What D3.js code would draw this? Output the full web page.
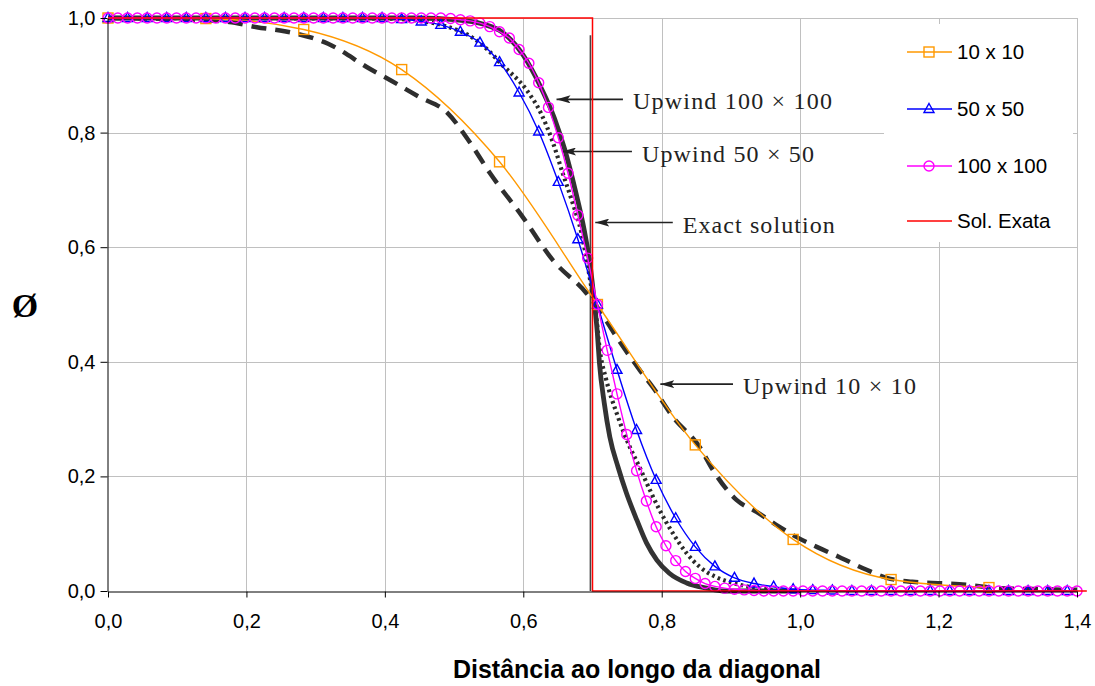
<!DOCTYPE html>
<html>
<head>
<meta charset="utf-8">
<script src="https://cdn.jsdelivr.net/npm/d3@7"></script>
<style>
  body { margin: 0; background: #ffffff; }
  svg { display: block; }
</style>
</head>
<body>
<svg id="chart" width="1095" height="686"></svg>
<script>
// ---------------- DATA ----------------
const xTickValues = [0, 0.2, 0.4, 0.6, 0.8, 1.0, 1.2, 1.4];
const yTickValues = [0, 0.2, 0.4, 0.6, 0.8, 1.0];
const seriesNames = ["10 x 10", "50 x 50", "100 x 100", "Sol. Exata"];

// 10 x 10 mesh (points along the diagonal)
const mesh10X = [0, 0.1414, 0.2828, 0.4243, 0.5657, 0.7071, 0.8485, 0.9899, 1.1314, 1.2728];
const mesh10Y = [1.000, 0.999, 0.980, 0.910, 0.749, 0.500, 0.255, 0.090, 0.020, 0.006];

// 50 x 50 mesh (spacing sqrt(2)/50)
const mesh50Step = 0.028284;
const mesh50Y = [
  1, 1, 1, 1, 1, 1, 1, 1, 1, 1,
  1, 1, 1, 1, 1, 0.998, 0.994, 0.988, 0.976, 0.957,
  0.923, 0.870, 0.802, 0.714, 0.614, 0.500, 0.386, 0.281, 0.194, 0.127,
  0.077, 0.043, 0.023, 0.013, 0.0075, 0.003, 0.0015, 0.001, 0, 0,
  0, 0, 0, 0, 0, 0, 0, 0, 0, 0
];

// 100 x 100 mesh (spacing sqrt(2)/100)
const mesh100Step = 0.014142;
const mesh100Y = [
  1, 1, 1, 1, 1, 1, 1, 1, 1, 1,
  1, 1, 1, 1, 1, 1, 1, 1, 1, 1,
  1, 1, 1, 1, 1, 1, 1, 1, 1, 1,
  1, 1, 1, 1, 1, 0.999, 0.997, 0.995, 0.991, 0.985,
  0.976, 0.965, 0.945, 0.921, 0.887, 0.844, 0.791, 0.729, 0.656, 0.581,
  0.500, 0.420, 0.344, 0.273, 0.210, 0.157, 0.112, 0.079, 0.053, 0.034,
  0.022, 0.013, 0.008, 0.005, 0.003, 0.002, 0.001, 0, 0, 0,
  0, 0, 0, 0, 0, 0, 0, 0, 0, 0,
  0, 0, 0, 0, 0, 0, 0, 0, 0, 0,
  0, 0, 0, 0, 0, 0, 0, 0, 0, 0
];

// exact solution (Sol. Exata)
const exactX = [0, 0.7, 0.7, 1.4142];
const exactY = [1, 1, 0, 0];

// reference curves (scanned figure overlay)
const upwind10X = [0, 0.10, 0.175, 0.215, 0.255, 0.318, 0.38, 0.41, 0.45, 0.49, 0.52, 0.552, 0.599, 0.643, 0.691, 0.71, 0.735, 0.768, 0.787, 0.816, 0.855, 0.874, 0.908, 0.937, 0.966, 0.995, 1.024, 1.057, 1.096, 1.125, 1.162, 1.23, 1.288, 1.35, 1.40];
const upwind10Y = [1.0, 0.998, 0.993, 0.984, 0.977, 0.955, 0.91, 0.89, 0.862, 0.835, 0.788, 0.729, 0.653, 0.577, 0.52, 0.49, 0.443, 0.386, 0.356, 0.304, 0.251, 0.211, 0.159, 0.138, 0.115, 0.094, 0.077, 0.059, 0.037, 0.023, 0.016, 0.012, 0.005, 0.003, 0.002];

const upwind50X = [0, 0.40, 0.45, 0.49, 0.525, 0.549, 0.568, 0.605, 0.625, 0.643, 0.657, 0.670, 0.684, 0.692, 0.699, 0.706, 0.71, 0.72, 0.735, 0.754, 0.768, 0.783, 0.797, 0.816, 0.836, 0.855, 0.879, 0.903, 0.937, 0.97, 1.0];
const upwind50Y = [1.0, 0.999, 0.995, 0.985, 0.967, 0.944, 0.92, 0.874, 0.835, 0.782, 0.729, 0.682, 0.625, 0.575, 0.525, 0.473, 0.426, 0.368, 0.31, 0.251, 0.216, 0.176, 0.141, 0.101, 0.066, 0.042, 0.024, 0.014, 0.005, 0.001, 0];

const upwind100X = [0, 0.45, 0.50, 0.54, 0.57, 0.60, 0.625, 0.645, 0.66, 0.675, 0.688, 0.697, 0.703, 0.707, 0.710, 0.717, 0.725, 0.737, 0.749, 0.764, 0.778, 0.793, 0.811, 0.836, 0.865, 0.89, 1.0];
const upwind100Y = [1.0, 1.0, 0.997, 0.99, 0.975, 0.935, 0.88, 0.825, 0.77, 0.70, 0.63, 0.565, 0.50, 0.45, 0.398, 0.328, 0.269, 0.216, 0.171, 0.124, 0.084, 0.054, 0.031, 0.014, 0.005, 0, 0];

const scanExactX = [0.697, 0.697];
const scanExactY = [0.97, 0];

// annotation labels and the data point each arrow points at / where its shaft ends
const annotationLabels = ["Upwind 100 \u00d7 100", "Upwind 50 \u00d7 50", "Exact solution", "Upwind 10 \u00d7 10"];
const annotationTipX = [0.648, 0.656, 0.704, 0.798];
const annotationTipY = [0.858, 0.767, 0.643, 0.361];
const annotationTailX = [0.744, 0.757, 0.816, 0.903];

const xTitle = "Dist\u00e2ncia ao longo da diagonal";
const yTitle = "\u00d8";

// ---------------- CHART ----------------
const svg = d3.select("#chart");
const W = 1095, H = 686;
const m = { left: 108, right: 1077, top: 18, bottom: 591 };

const x = d3.scaleLinear().domain([0, 1.4]).range([m.left, m.right]);
const y = d3.scaleLinear().domain([0, 1]).range([m.bottom, m.top]);
const fmt = d => d3.format(".1f")(d).replace(".", ",");

svg.append("rect").attr("width", W).attr("height", H).attr("fill", "#fff");

// grid
const grid = svg.append("g").attr("stroke", "#c0c0c0").attr("stroke-width", 1);
grid.selectAll("line.v").data(xTickValues.filter(d => d > 0)).enter().append("line")
  .attr("x1", d => Math.round(x(d)) + 0.5).attr("x2", d => Math.round(x(d)) + 0.5)
  .attr("y1", m.top).attr("y2", m.bottom);
grid.selectAll("line.h").data(yTickValues.filter(d => d > 0)).enter().append("line")
  .attr("y1", d => Math.round(y(d)) + 0.5).attr("y2", d => Math.round(y(d)) + 0.5)
  .attr("x1", m.left).attr("x2", m.right);

// legend background (covers grid)
const lg = svg.append("g");
lg.append("rect").attr("x", 884).attr("y", 24).attr("width", 189).attr("height", 218).attr("fill", "#fff");

// scanned reference curves
const lineOf = (xs, ys, curve) => d3.line().x((d, i) => x(xs[i])).y((d, i) => y(ys[i])).curve(curve || d3.curveMonotoneX)(ys);
const scan = svg.append("g").attr("fill", "none").attr("stroke-linejoin", "round");
scan.append("path").attr("d", lineOf(scanExactX, scanExactY, d3.curveLinear))
  .attr("stroke", "#444").attr("stroke-width", 1.6);
scan.append("path").attr("d", lineOf(upwind10X, upwind10Y))
  .attr("stroke", "#2e2e2e").attr("stroke-width", 4.5).attr("stroke-dasharray", "15,9");
scan.append("path").attr("d", lineOf(upwind50X, upwind50Y))
  .attr("stroke", "#2a2a2a").attr("stroke-width", 4.2).attr("stroke-dasharray", "2.6,3.4");
scan.append("path").attr("d", lineOf(upwind100X, upwind100Y))
  .attr("stroke", "#333").attr("stroke-width", 4.8);

// annotations
svg.append("defs").append("marker")
  .attr("id", "arrow").attr("viewBox", "0 0 14 8").attr("refX", 14).attr("refY", 4)
  .attr("markerWidth", 14).attr("markerHeight", 8).attr("markerUnits", "userSpaceOnUse")
  .attr("orient", "auto")
  .append("path").attr("d", "M0,0 L14,4 L0,8 L3,4 Z").attr("fill", "#222");
const textWidths = [199, 172, 152, 173];
const ann = svg.append("g");
annotationLabels.forEach((t, i) => {
  const ty = y(annotationTipY[i]);
  ann.append("line")
    .attr("x1", x(annotationTailX[i])).attr("y1", ty)
    .attr("x2", x(annotationTipX[i])).attr("y2", ty)
    .attr("stroke", "#222").attr("stroke-width", 1.6)
    .attr("marker-end", "url(#arrow)");
  ann.append("text")
    .attr("x", x(annotationTailX[i]) + 10).attr("y", ty + 10)
    .attr("font-family", "'Liberation Serif', 'DejaVu Serif', serif")
    .attr("font-size", 24).attr("fill", "#222")
    .attr("textLength", textWidths[i]).attr("lengthAdjust", "spacing")
    .text(t);
});

// Excel series
const colors = ["#FF9900", "#0000FF", "#FF00FF", "#FF0000"];
const mesh50X = mesh50Y.map((d, i) => i * mesh50Step);
const mesh100X = mesh100Y.map((d, i) => i * mesh100Step);
const ser = svg.append("g").attr("fill", "none");

function drawSeries(xs, ys, color, shape) {
  ser.append("path").attr("d", lineOf(xs, ys)).attr("stroke", color).attr("stroke-width", 1.4);
  const g = ser.append("g").attr("stroke", color).attr("stroke-width", 1.4).attr("fill", "none");
  ys.forEach((v, i) => drawMarker(g, x(xs[i]), y(v), shape));
}
function drawMarker(g, cx, cy, shape) {
  if (shape === "square") {
    g.append("rect").attr("x", cx - 5).attr("y", cy - 5).attr("width", 10).attr("height", 10);
  } else if (shape === "triangle") {
    g.append("path").attr("d", `M${cx},${cy - 5.5} L${cx + 5},${cy + 3.5} L${cx - 5},${cy + 3.5} Z`);
  } else if (shape === "circle") {
    g.append("circle").attr("cx", cx).attr("cy", cy).attr("r", 5);
  }
}
drawSeries(mesh10X, mesh10Y, colors[0], "square");
drawSeries(mesh50X, mesh50Y, colors[1], "triangle");
drawSeries(mesh100X, mesh100Y, colors[2], "circle");
ser.append("path").attr("d", lineOf(exactX, exactY, d3.curveLinear)).attr("stroke", colors[3]).attr("stroke-width", 1.5);

// axes
const xAxis = d3.axisBottom(x).tickValues(xTickValues).tickFormat(fmt).tickSize(6).tickSizeOuter(0);
const yAxis = d3.axisLeft(y).tickValues(yTickValues).tickFormat(fmt).tickSize(7).tickSizeOuter(0);
const gx = svg.append("g").attr("transform", `translate(0,${m.bottom + 0.5})`).call(xAxis);
const gy = svg.append("g").attr("transform", `translate(${m.left - 0.5},0)`).call(yAxis);
[gx, gy].forEach(g => {
  g.select(".domain").attr("stroke", "#000");
  g.selectAll(".tick line").attr("stroke", "#000");
  g.selectAll("text").attr("font-family", "'Liberation Sans', Arial, sans-serif")
    .attr("font-size", 20).attr("fill", "#000");
});
gx.selectAll("text").attr("dy", "0.71em").attr("y", 22);
gy.selectAll("text").attr("x", -12);

// titles
svg.append("text").attr("x", 637).attr("y", 678).attr("text-anchor", "middle")
  .attr("font-family", "'Liberation Sans', Arial, sans-serif").attr("font-weight", "bold")
  .attr("font-size", 25).text(xTitle);
svg.append("text").attr("x", 25).attr("y", 317).attr("text-anchor", "middle")
  .attr("font-family", "'Liberation Serif', serif").attr("font-weight", "bold")
  .attr("font-size", 34).text(yTitle);

// legend entries
const legendRows = [52, 109, 166, 221];
const legendShapes = ["square", "triangle", "circle", null];
seriesNames.forEach((name, i) => {
  const ly = legendRows[i];
  lg.append("line").attr("x1", 907).attr("x2", 952).attr("y1", ly).attr("y2", ly)
    .attr("stroke", colors[i]).attr("stroke-width", 1.5);
  const mg = lg.append("g").attr("stroke", colors[i]).attr("stroke-width", 1.4).attr("fill", "none");
  if (legendShapes[i]) drawMarker(mg, 929, ly, legendShapes[i]);
  lg.append("text").attr("x", 957).attr("y", ly + 7)
    .attr("font-family", "'Liberation Sans', Arial, sans-serif").attr("font-size", 20.5)
    .attr("fill", "#000").text(name);
});
</script>
</body>
</html>
